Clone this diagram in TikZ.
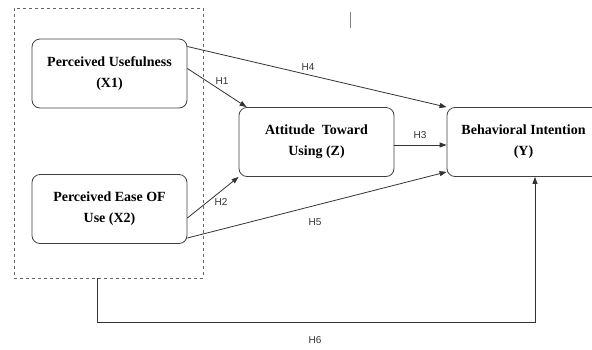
\documentclass[tikz,border=0pt]{standalone}
\usepackage{fontspec}
\setmainfont{Liberation Serif}
\newfontfamily\hlabelfont{Liberation Sans}
\usetikzlibrary{arrows.meta,positioning,calc}

\begin{document}
\begin{tikzpicture}[
    x=1pt, y=-1pt,
    varbox/.style={rectangle, rounded corners=8pt, minimum width=155pt, minimum height=69pt, text centered, draw=black!75, line width=0.8pt, align=center, font=\fontsize{14}{21}\selectfont\bfseries, inner sep=2pt},
    groupbox/.style={rectangle, draw=black!60, dashed, line width=0.8pt, minimum width=189pt, minimum height=270pt, inner sep=0pt},
    hyp/.style={font=\hlabelfont\fontsize{10}{12}\selectfont, text=black!80, inner sep=1pt},
    arrow/.style={line width=0.8pt, draw=black!80, -{Triangle[length=7pt,width=5pt]}},
    line/.style={line width=0.8pt, draw=black!80}
]
    \useasboundingbox (0,0) rectangle (592,349);
    \clip (0,0) rectangle (592,349);

    % Dashed frame round the two predictors
    \node[groupbox] (grp) at (108.5, 143) {};

    % Variable boxes
    \node[varbox] (x1) at (109.5, 73.5) {Perceived Usefulness\\(X1)};
    \node[varbox] (x2) at (109.5, 209) {Perceived Ease OF\\Use (X2)};
    \node[varbox] (z)  at (316.5, 142) {Attitude\ \ Toward\\Using (Z)};
    \node[varbox, minimum width=153pt] (y) at (523.5, 142) {Behavioral Intention\\(Y)};

    % Hypothesis paths
    \draw[arrow] ([yshift=27pt]x1.east) -- (y.north west);
    \draw[arrow] ([yshift=5pt]x1.east) -- ([xshift=8pt]z.north west);
    \draw[arrow] ([yshift=-9pt]x2.east) -- (z.south west);
    \draw[arrow] ([yshift=-29pt]x2.east) -- ([yshift=5pt]y.south west);
    \draw[arrow] ([yshift=-3pt]z.east) -- ([yshift=-3pt]y.west);

    % Loop under the frame to Y
    \coordinate (h6turn) at ([xshift=-11.5pt, yshift=-44pt]grp.south);
    \draw[line] ([xshift=-11.5pt]grp.south) -- (h6turn);
    \draw[arrow] (h6turn) -| ([xshift=11.5pt]y.south);

    % Labels
    \node[hyp] (lh1) at (222, 81) {H1};
    \node[hyp] (lh2) at (221, 202) {H2};
    \node[hyp] (lh3) at (420, 135) {H3};
    \node[hyp] (lh4) at (308, 67) {H4};
    \node[hyp] (lh5) at (315, 222) {H5};
    \node[hyp] (lh6) at (315, 340) {H6};

    % Stray mark at the top
    \draw[black!50, line width=1pt] (350, 12) -- (350, 28);
\end{tikzpicture}
\end{document}
